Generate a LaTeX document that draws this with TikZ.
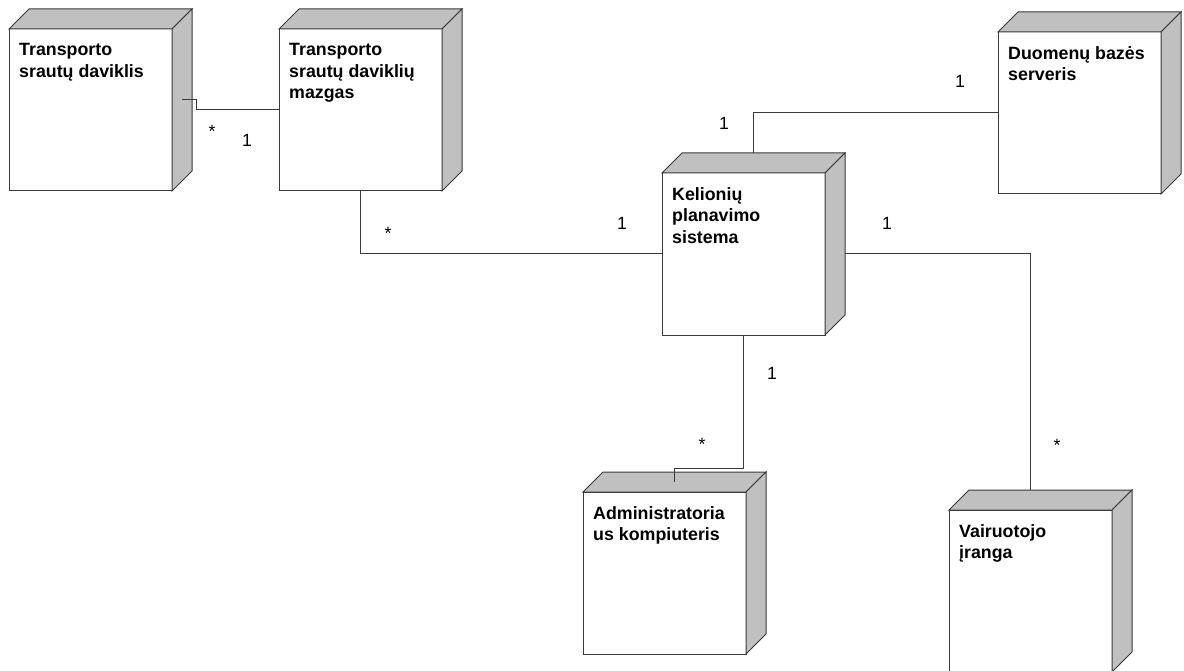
\documentclass[tikz,border=0pt]{standalone}
\usepackage{fontspec}
\setmainfont{Liberation Sans}
\usetikzlibrary{calc}

\definecolor{edge}{HTML}{3A3A3A}
\definecolor{face}{HTML}{C0C0C0}

\tikzset{
  front/.style={draw=edge, line width=1pt, fill=white, minimum width=163pt,
    minimum height=162pt, inner sep=0pt, outer sep=0pt},
  side/.style={draw=edge, line width=1pt, fill=face, line join=miter},
  nodetext/.style={anchor=north west, inner sep=0pt, align=left,
    font=\bfseries\fontsize{17.8}{21.7}\selectfont, text=black},
  mult/.style={inner sep=0pt, font=\fontsize{17.7}{20}\selectfont, text=black},
  link/.style={draw=edge, line width=1pt},
}

% 3D deployment node: name, left, top, caption
\newcommand\devbox[4]{%
  \node[front] (#1) at (#2+81.5, #3+81) {};
  \draw[side] (#1.north west) -- ++(20,-20) -- ($(#1.north east)+(20,-20)$)
    -- (#1.north east) -- cycle;
  \draw[side] (#1.north east) -- ++(20,-20) -- ($(#1.south east)+(20,-20)$)
    -- (#1.south east) -- cycle;
  \node[nodetext] (#1-t) at ($(#1.north west)+(10,14)$) {#4};
}

\begin{document}
\begin{tikzpicture}[x=1pt, y=-1pt]
  \useasboundingbox (0,0) rectangle (1184,671);
  \clip (0,0) rectangle (1184,671);
  \fill[white] (0,0) rectangle (1184,671);

  \devbox{sensor}{9}{29}{Transporto\\srautų daviklis}
  \devbox{hub}{279}{29}{Transporto\\srautų daviklių\\mazgas}
  \devbox{core}{662}{173}{Kelionių\\planavimo\\sistema}
  \devbox{db}{998}{32}{Duomenų bazės\\serveris}
  \devbox{admin}{583}{492}{Administratoria\\us kompiuteris}
  \devbox{driver}{949}{510}{Vairuotojo\\įranga}

  % connectors
  \draw[link] ($(sensor.north east)+(10,71)$) -- ++(14,0) |- (hub.west);
  \draw[link] (hub.south) |- (core.west);
  \draw[link] ($(core.north)+(10,-20)$) |- (db.west);
  \draw[link] ($(core.east)+(20,0)$) -| ($(driver.north)+(0,-20)$);
  \draw[link] (core.south) -- ++(0,133) -| ($(admin.north)+(10,-10)$);

  % multiplicities
  \node[mult] (m1) at (212,131) {*};
  \node[mult] (m2) at (247,140) {1};
  \node[mult] (m3) at (388,233) {*};
  \node[mult] (m4) at (622,223) {1};
  \node[mult] (m5) at (724,123) {1};
  \node[mult] (m6) at (960,81) {1};
  \node[mult] (m7) at (887,223) {1};
  \node[mult] (m8) at (1057,445) {*};
  \node[mult] (m9) at (772,373) {1};
  \node[mult] (m10) at (702,444) {*};
\end{tikzpicture}
\end{document}
